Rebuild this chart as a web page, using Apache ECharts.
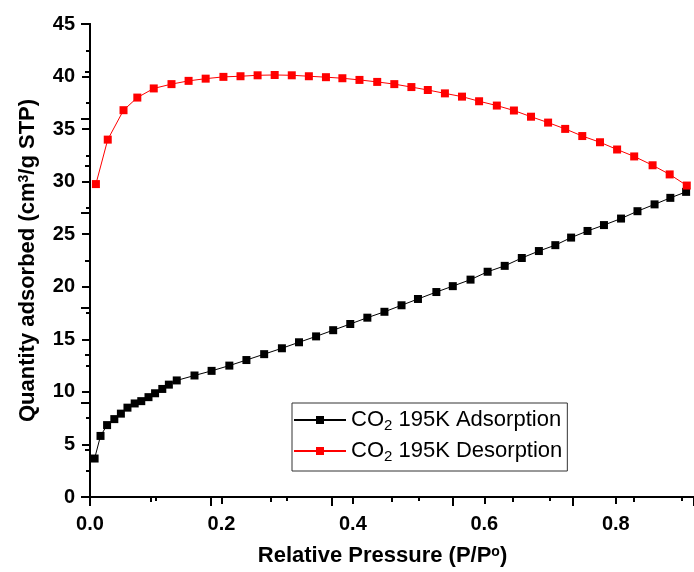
<!DOCTYPE html>
<html>
<head>
<meta charset="utf-8">
<script src="https://cdn.jsdelivr.net/npm/echarts@6/dist/echarts.min.js"></script>
<style>
  html, body { margin: 0; padding: 0; background: #fff; }
  #chart { width: 694px; height: 572px; }
</style>
</head>
<body>
<div id="chart"></div>
<script>
  // CO2 195K isotherm
  var adsP = [0.007, 0.016, 0.026, 0.037, 0.047, 0.057, 0.068, 0.078, 0.089, 0.099, 0.110, 0.120, 0.132,
    0.159, 0.185, 0.212, 0.238, 0.265, 0.292, 0.318, 0.344, 0.370, 0.396, 0.422, 0.448, 0.474, 0.499,
    0.527, 0.552, 0.579, 0.605, 0.631, 0.657, 0.683, 0.708, 0.732, 0.757, 0.782, 0.808, 0.833, 0.859,
    0.883, 0.907]
  var adsQ = [3.66, 5.81, 6.84, 7.41, 7.93, 8.5, 8.9, 9.12, 9.5, 9.87, 10.28, 10.69, 11.09,
    11.56, 12.0, 12.5, 13.03, 13.59, 14.15, 14.72, 15.28, 15.87, 16.46, 17.06, 17.62, 18.24, 18.84,
    19.5, 20.06, 20.68, 21.43, 21.99, 22.74, 23.4, 23.96, 24.68, 25.31, 25.87, 26.49, 27.19, 27.84,
    28.46, 29.03]
  var desP = [0.009, 0.027, 0.051, 0.072, 0.097, 0.124, 0.150, 0.176, 0.203, 0.229, 0.255, 0.281,
    0.307, 0.333, 0.359, 0.384, 0.410, 0.437, 0.463, 0.489, 0.514, 0.540, 0.566, 0.592, 0.619,
    0.645, 0.671, 0.697, 0.723, 0.749, 0.776, 0.802, 0.828, 0.856, 0.882, 0.908]
  var desQ = [29.77, 34.0, 36.8, 38.0, 38.87, 39.28, 39.59, 39.8, 39.97, 40.03, 40.12, 40.15,
    40.12, 40.03, 39.94, 39.84, 39.68, 39.49, 39.28, 39.0, 38.72, 38.4, 38.09, 37.65, 37.24,
    36.77, 36.18, 35.62, 35.02, 34.34, 33.75, 33.06, 32.4, 31.56, 30.69, 29.63]
  var seriesNames = ['CO2 195K Adsorption', 'CO2 195K Desorption']

  var font = 'Liberation Sans, Arial, sans-serif'

  function pairs(xs, ys) {
    var out = []
    for (var i = 0; i < xs.length; i++) out.push([xs[i], ys[i]])
    return out
  }

  var chart = echarts.init(document.getElementById('chart'))
  chart.setOption({
    backgroundColor: '#fff',
    animation: false,
    grid: { left: 90, top: 24, width: 609, height: 479 },
    legend: {
      data: seriesNames,
      orient: 'vertical',
      left: 292,
      top: 403,
      padding: [4, 5, 7, 1],
      itemGap: 5,
      itemWidth: 52,
      itemHeight: 10,
      borderColor: '#333',
      borderWidth: 1,
      formatter: function (name) {
        return name.replace('CO2', 'CO{sub|2}')
      },
      textStyle: {
        fontFamily: font, fontSize: 22, color: '#000', lineHeight: 26,
        rich: { sub: { fontFamily: font, fontSize: 15, color: '#000', verticalAlign: 'bottom', lineHeight: 15 } }
      }
    },
    xAxis: [
      {
        type: 'value', position: 'bottom', min: 0, max: 0.919, interval: 0.2,
        name: 'Relative Pressure (P/P{sup|o})',
        nameLocation: 'middle', nameGap: 48,
        nameTextStyle: {
          fontFamily: font, fontSize: 22, fontWeight: 'bold', color: '#000', padding: [0, 19, 0, 0],
          rich: { sup: { fontFamily: font, fontSize: 14, fontWeight: 'bold', color: '#000', verticalAlign: 'top' } }
        },
        axisLine: { lineStyle: { color: '#000', width: 2 } },
        axisTick: { length: 7, lineStyle: { color: '#000', width: 2 } },
        minorTick: { show: true, splitNumber: 2, length: 4, lineStyle: { color: '#000', width: 2 } },
        splitLine: { show: false },
        axisLabel: {
          margin: 17, fontFamily: font, fontSize: 20, fontWeight: 'bold', color: '#000',
          showMaxLabel: false,
          formatter: function (v) { return v.toFixed(1) }
        }
      },
      {
        type: 'value', position: 'top', min: 0, max: 5, interval: 1,
        axisLine: { lineStyle: { color: '#000', width: 2 } },
        axisTick: { inside: true, length: 9, lineStyle: { color: '#000', width: 2 } },
        minorTick: { show: true, splitNumber: 2, length: 5, lineStyle: { color: '#000', width: 2 } },
        splitLine: { show: false },
        axisLabel: { show: false }
      }
    ],
    yAxis: [
      {
        type: 'value', position: 'left', min: 0, max: 45, interval: 5,
        name: 'Quantity adsorbed (cm{sup|3}/g STP)',
        nameLocation: 'middle', nameGap: 51,
        nameTextStyle: {
          fontFamily: font, fontSize: 22, fontWeight: 'bold', color: '#000',
          rich: { sup: { fontFamily: font, fontSize: 14, fontWeight: 'bold', color: '#000', verticalAlign: 'top' } }
        },
        axisLine: { lineStyle: { color: '#000', width: 2 } },
        axisTick: { length: 8, lineStyle: { color: '#000', width: 2 } },
        minorTick: { show: true, splitNumber: 2, length: 4, lineStyle: { color: '#000', width: 2 } },
        splitLine: { show: false },
        axisLabel: { margin: 15, fontFamily: font, fontSize: 20, fontWeight: 'bold', color: '#000' }
      },
      {
        type: 'value', position: 'right', min: 0, max: 5, interval: 1,
        axisLine: { show: true, lineStyle: { color: '#000', width: 2 } },
        axisTick: { show: true, inside: true, length: 9, lineStyle: { color: '#000', width: 2 } },
        minorTick: { show: true, splitNumber: 2, length: 5, lineStyle: { color: '#000', width: 2 } },
        splitLine: { show: false },
        axisLabel: { show: false }
      }
    ],
    series: [
      {
        name: seriesNames[0], type: 'line', xAxisIndex: 0, yAxisIndex: 0,
        data: pairs(adsP, adsQ),
        symbol: 'rect', symbolSize: 8, showAllSymbol: true,
        lineStyle: { color: '#000', width: 1 },
        itemStyle: { color: '#000' }
      },
      {
        name: seriesNames[1], type: 'line', xAxisIndex: 0, yAxisIndex: 0,
        data: pairs(desP, desQ),
        symbol: 'rect', symbolSize: 8, showAllSymbol: true,
        lineStyle: { color: '#ff0000', width: 1 },
        itemStyle: { color: '#ff0000' }
      }
    ]
  })
</script>
</body>
</html>
